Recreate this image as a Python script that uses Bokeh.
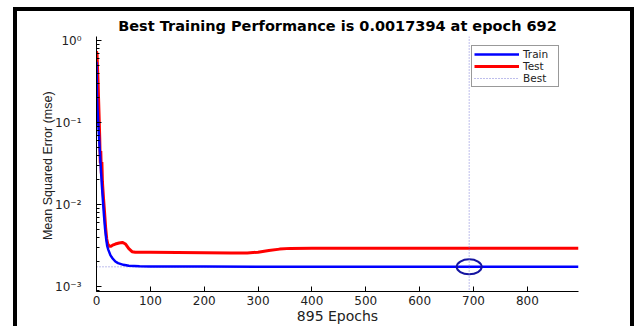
from bokeh.plotting import figure
from bokeh.models import (Range1d, FixedTicker, LogTicker, CustomJSTickFormatter, Span,
                          Legend, LegendItem)
from bokeh.embed import file_html
from bokeh.resources import INLINE

# ---------------- data ----------------
title_text = "Best Training Performance is 0.0017394 at epoch 692"
x_label = "895 Epochs"
y_label = "Mean Squared Error  (mse)"
x_ticks = [0, 100, 200, 300, 400, 500, 600, 700, 800]
total_epochs = 895
best_epoch = 692
best_perf = 0.0017394

train_epochs = [0, 1, 2, 3, 4, 6, 8, 10, 12, 14, 16, 18, 20, 22, 26, 30, 35, 40, 50, 60,
                80, 100, 200, 400, 692, 895]
train_mse = [0.55, 0.2, 0.14, 0.105, 0.082, 0.047, 0.028, 0.017, 0.011, 0.0072, 0.0050,
             0.0038, 0.0031, 0.0028, 0.0024, 0.0022, 0.00202, 0.00193, 0.00184, 0.00179,
             0.00177, 0.00176, 0.00175, 0.00174, 0.0017394, 0.00174]

test_epochs = [0, 1, 2, 3, 4, 5, 6, 7, 8, 9, 10, 11, 12, 13, 15, 17, 19, 21, 24, 27, 30,
               35, 42, 48, 54, 60, 66, 72, 100, 150, 200, 250, 280, 300, 320, 340, 360,
               400, 895]
test_mse = [0.74, 0.68, 0.45, 0.3, 0.18, 0.11, 0.065, 0.032, 0.045, 0.024, 0.033, 0.019,
            0.015, 0.012, 0.008, 0.0052, 0.0038, 0.0033, 0.0031, 0.0031, 0.0032, 0.0033,
            0.0034, 0.00345, 0.0033, 0.0029, 0.00266, 0.00262, 0.00262, 0.00261, 0.00259,
            0.00256, 0.00257, 0.00262, 0.00275, 0.00286, 0.00292, 0.00294, 0.00294]

best_x = [0, best_epoch]
best_y = [best_perf, best_perf]

# ---------------- figure ----------------
FONT = "DejaVu Sans"
BEST_COLOR = "#7c7cd8"

p = figure(width=613, height=315, y_axis_type="log",
           x_range=Range1d(0, total_epochs), y_range=Range1d(8.7e-4, 1.12),
           output_backend="svg", toolbar_location=None,
           min_border_left=79, min_border_right=52, min_border_top=25, min_border_bottom=34,
           background_fill_color="white", border_fill_color="white")
p.styles = {
    "margin-left": "17px",
    "margin-top": "11px",
    "box-shadow": "-4px 0 0 0 black, 4px 0 0 0 black, 0 -4px 0 0 black, "
                  "-4px -4px 0 0 black, 4px -4px 0 0 black",
}
p.outline_line_color = None
p.grid.visible = False

p.title.text = title_text
p.title.text_font = FONT
p.title.text_font_size = "14.5px"
p.title.text_font_style = "bold"
p.title.text_color = "black"
p.title.align = "center"
p.title.standoff = 6

# x axis
xa = p.xaxis[0]
xa.ticker = FixedTicker(ticks=x_ticks)
xa.axis_label = x_label
xa.axis_label_text_font = FONT
xa.axis_label_text_font_size = "14px"
xa.axis_label_text_font_style = "normal"
xa.axis_label_text_color = "#222222"
xa.axis_label_standoff = 0
xa.major_label_text_font = FONT
xa.major_label_text_font_size = "12px"
xa.major_label_text_color = "#222222"
xa.major_label_standoff = 4
xa.major_tick_in = 5
xa.major_tick_out = 0
xa.minor_tick_in = 0
xa.minor_tick_out = 0
xa.axis_line_color = "black"
xa.major_tick_line_color = "black"

# y axis
ya = p.yaxis[0]
ya.ticker = LogTicker(num_minor_ticks=10)
ya.formatter = CustomJSTickFormatter(code="""
const sup = {'-':'\u207b','0':'\u2070','1':'\u00b9','2':'\u00b2','3':'\u00b3','4':'\u2074',
             '5':'\u2075','6':'\u2076','7':'\u2077','8':'\u2078','9':'\u2079'};
const e = Math.round(Math.log10(tick));
return '10' + String(e).split('').map(c => sup[c]).join('');
""")
ya.axis_label = y_label
ya.axis_label_text_font = "Liberation Sans"
ya.axis_label_text_font_size = "12.5px"
ya.axis_label_text_font_style = "normal"
ya.axis_label_text_color = "#222222"
ya.axis_label_standoff = -3
ya.major_label_text_font = FONT
ya.major_label_text_font_size = "12px"
ya.major_label_text_color = "#222222"
ya.major_label_standoff = 15
ya.major_tick_in = 5
ya.major_tick_out = 0
ya.minor_tick_in = 3
ya.minor_tick_out = 0
ya.axis_line_color = "black"
ya.major_tick_line_color = "black"
ya.minor_tick_line_color = "black"

# best markers
p.add_layout(Span(location=best_epoch, dimension="height", line_color=BEST_COLOR,
                  line_dash="1 2", line_width=1))
r_best = p.line(best_x, best_y, line_color=BEST_COLOR, line_dash="1 2", line_width=1)

# series
r_test = p.line(test_epochs, test_mse, line_color="#ff0000", line_width=3)
r_train = p.line(train_epochs, train_mse, line_color="#0000ff", line_width=2.5)

p.ellipse(x=[best_epoch], y=[best_perf], width=25, height=15,
          width_units="screen", height_units="screen",
          fill_color=None, line_color="#1414a0", line_width=2)

legend = Legend(items=[LegendItem(label="Train", renderers=[r_train]),
                       LegendItem(label="Test", renderers=[r_test]),
                       LegendItem(label="Best", renderers=[r_best])],
                location=(375, 204), margin=0, padding=2, spacing=0,
                label_height=12, glyph_height=12, glyph_width=45, label_standoff=4,
                label_width=33,
                label_text_font=FONT, label_text_font_size="10.5px",
                label_text_color="#222222",
                border_line_color="#333333", border_line_width=1,
                background_fill_color="white", background_fill_alpha=1)
p.add_layout(legend)

open("out.html", "w").write(file_html(p, INLINE))
